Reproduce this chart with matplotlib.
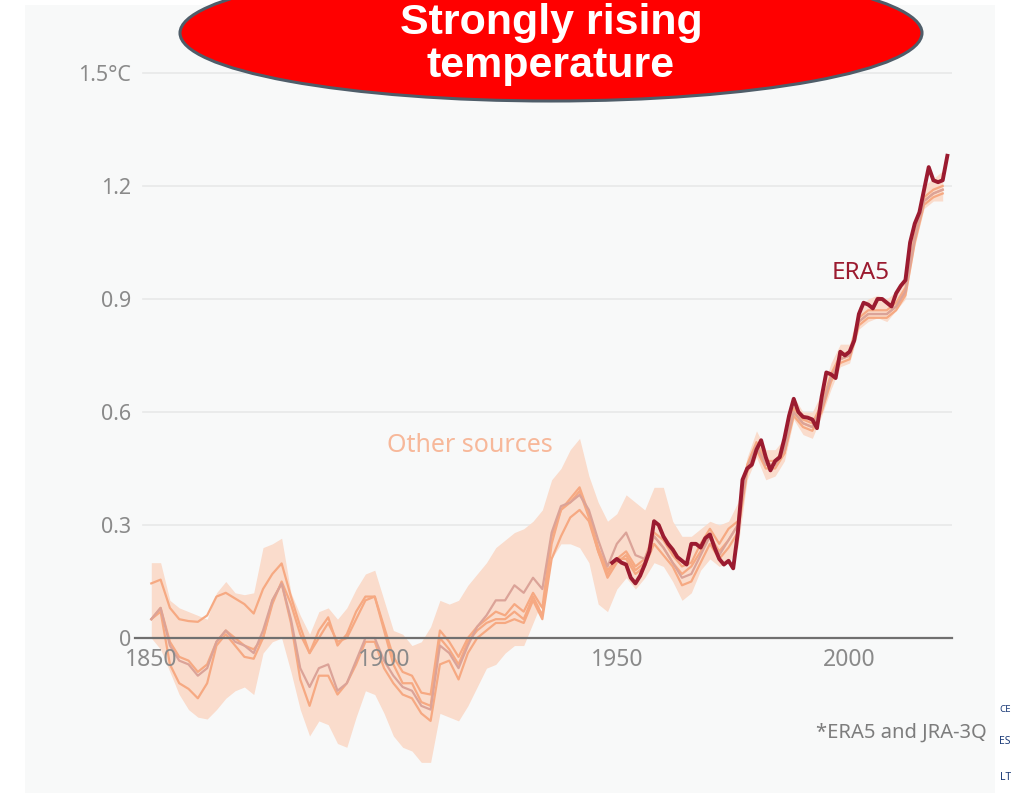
import numpy as np
import matplotlib
matplotlib.use('Agg')
import matplotlib.pyplot as plt
from matplotlib.patches import Ellipse, Rectangle

plt.rcParams['font.family'] = ['Noto Sans', 'DejaVu Sans']

# other sources, read every 2 years (1850..2020)
YEARS = np.arange(1850, 2021, 2)

BAND_HI = [
    0.20, 0.20, 0.10, 0.08, 0.07, 0.06, 0.05, 0.12, 0.15, 0.12,
    0.115, 0.12, 0.24, 0.25, 0.265, 0.12, 0.06, 0.01, 0.07, 0.08,
    0.05, 0.08, 0.13, 0.17, 0.18, 0.10, 0.02, 0.01, -0.02, -0.01,
    0.03, 0.10, 0.09, 0.10, 0.14, 0.17, 0.20, 0.24, 0.26, 0.28,
    0.29, 0.31, 0.34, 0.42, 0.45, 0.50, 0.53, 0.43, 0.36, 0.31,
    0.33, 0.38, 0.36, 0.34, 0.40, 0.40, 0.31, 0.27, 0.27, 0.29,
    0.31, 0.30, 0.31, 0.36, 0.48, 0.55, 0.50, 0.50, 0.53, 0.64,
    0.60, 0.60, 0.65, 0.73, 0.78, 0.78, 0.88, 0.90, 0.91, 0.90,
    0.92, 0.95, 1.10, 1.20, 1.22, 1.24,
]
BAND_LO = [
    0.00, -0.03, -0.09, -0.15, -0.19, -0.21, -0.215, -0.19, -0.16, -0.14,
    -0.13, -0.15, -0.04, -0.01, 0.00, -0.09, -0.19, -0.26, -0.22, -0.23,
    -0.28, -0.29, -0.21, -0.14, -0.15, -0.20, -0.26, -0.29, -0.30, -0.33,
    -0.33, -0.20, -0.21, -0.22, -0.18, -0.13, -0.08, -0.07, -0.04, -0.02,
    -0.02, 0.04, 0.10, 0.21, 0.25, 0.25, 0.24, 0.20, 0.09, 0.07,
    0.13, 0.16, 0.13, 0.16, 0.20, 0.19, 0.15, 0.10, 0.12, 0.18,
    0.21, 0.19, 0.20, 0.24, 0.42, 0.48, 0.42, 0.43, 0.47, 0.58,
    0.54, 0.53, 0.59, 0.66, 0.72, 0.73, 0.82, 0.84, 0.85, 0.84,
    0.87, 0.90, 1.04, 1.14, 1.16, 1.16,
]
SRC_A = [
    0.145, 0.155, 0.08, 0.05, 0.045, 0.043, 0.06, 0.11, 0.12, 0.105,
    0.09, 0.065, 0.13, 0.17, 0.198, 0.11, 0.03, -0.04, 0.02, 0.055,
    -0.02, 0.01, 0.07, 0.11, 0.11, 0.03, -0.05, -0.09, -0.10, -0.145,
    -0.15, 0.02, -0.01, -0.05, 0.00, 0.03, 0.05, 0.07, 0.06, 0.09,
    0.07, 0.12, 0.08, 0.27, 0.34, 0.37, 0.40, 0.33, 0.24, 0.18,
    0.21, 0.23, 0.19, 0.21, 0.28, 0.26, 0.22, 0.19, 0.20, 0.25,
    0.29, 0.25, 0.29, 0.31, 0.46, 0.52, 0.47, 0.47, 0.50, 0.61,
    0.58, 0.57, 0.62, 0.70, 0.75, 0.76, 0.85, 0.87, 0.87, 0.87,
    0.89, 0.93, 1.07, 1.17, 1.19, 1.20,
]
SRC_B = [
    0.05, 0.08, -0.01, -0.05, -0.06, -0.09, -0.07, -0.01, 0.02, 0.00,
    -0.02, -0.03, 0.00, 0.09, 0.15, 0.09, 0.01, -0.04, 0.00, 0.04,
    -0.01, 0.00, 0.05, 0.10, 0.11, 0.02, -0.07, -0.12, -0.12, -0.17,
    -0.18, 0.00, -0.03, -0.07, -0.01, 0.02, 0.04, 0.05, 0.05, 0.07,
    0.05, 0.11, 0.06, 0.25, 0.34, 0.36, 0.39, 0.32, 0.23, 0.16,
    0.20, 0.22, 0.18, 0.20, 0.27, 0.24, 0.20, 0.17, 0.19, 0.23,
    0.27, 0.23, 0.26, 0.30, 0.45, 0.51, 0.46, 0.46, 0.49, 0.60,
    0.57, 0.56, 0.61, 0.69, 0.74, 0.75, 0.84, 0.86, 0.86, 0.86,
    0.88, 0.92, 1.06, 1.16, 1.18, 1.19,
]
SRC_C = [
    0.05, 0.08, -0.02, -0.06, -0.07, -0.10, -0.08, -0.01, 0.02, -0.01,
    -0.02, -0.04, 0.02, 0.10, 0.145, 0.05, -0.08, -0.13, -0.08, -0.07,
    -0.14, -0.12, -0.06, 0.00, 0.00, -0.06, -0.10, -0.13, -0.14, -0.18,
    -0.19, -0.02, -0.04, -0.08, -0.02, 0.03, 0.06, 0.10, 0.10, 0.14,
    0.12, 0.16, 0.13, 0.28, 0.35, 0.36, 0.38, 0.34, 0.26, 0.19,
    0.25, 0.28, 0.22, 0.21, 0.27, 0.24, 0.20, 0.16, 0.17, 0.22,
    0.27, 0.22, 0.26, 0.30, 0.45, 0.51, 0.46, 0.46, 0.50, 0.60,
    0.57, 0.56, 0.61, 0.69, 0.74, 0.75, 0.84, 0.86, 0.86, 0.86,
    0.88, 0.92, 1.06, 1.16, 1.18, 1.19,
]
SRC_D = [
    0.05, 0.07, -0.07, -0.12, -0.135, -0.16, -0.12, -0.02, 0.01, -0.02,
    -0.05, -0.055, 0.00, 0.10, 0.145, 0.04, -0.11, -0.18, -0.10, -0.10,
    -0.15, -0.12, -0.07, -0.01, -0.01, -0.08, -0.12, -0.15, -0.16, -0.20,
    -0.22, -0.07, -0.06, -0.11, -0.04, 0.00, 0.02, 0.04, 0.04, 0.05,
    0.04, 0.10, 0.05, 0.21, 0.27, 0.32, 0.34, 0.31, 0.23, 0.17,
    0.21, 0.21, 0.17, 0.19, 0.25, 0.22, 0.19, 0.14, 0.15, 0.20,
    0.25, 0.21, 0.24, 0.28, 0.44, 0.50, 0.45, 0.45, 0.49, 0.59,
    0.56, 0.55, 0.60, 0.68, 0.73, 0.74, 0.83, 0.85, 0.85, 0.85,
    0.87, 0.91, 1.05, 1.15, 1.17, 1.18,
]

ERA5_YEARS = np.arange(1949, 2022)
ERA5 = [
    0.20, 0.21, 0.20, 0.195, 0.16, 0.145, 0.165, 0.195, 0.23, 0.31,
    0.30, 0.27, 0.25, 0.235, 0.215, 0.205, 0.195, 0.25, 0.25, 0.24,
    0.265, 0.275, 0.24, 0.21, 0.195, 0.205, 0.185, 0.28, 0.42, 0.45,
    0.46, 0.50, 0.525, 0.48, 0.445, 0.47, 0.48, 0.53, 0.59, 0.635,
    0.60, 0.587, 0.585, 0.58, 0.557, 0.64, 0.705, 0.70, 0.69, 0.76,
    0.75, 0.76, 0.79, 0.86, 0.89, 0.885, 0.875, 0.90, 0.90, 0.89,
    0.88, 0.915, 0.935, 0.95, 1.05, 1.10, 1.13, 1.19, 1.25, 1.215,
    1.21, 1.215, 1.28,
]

Y_TICKS  = [0, 0.3, 0.6, 0.9, 1.2, 1.5]
Y_LABELS = ['0', '0.3', '0.6', '0.9', '1.2', '1.5°C']
X_TICKS  = [1850, 1900, 1950, 2000]

BAND_COLOR = '#fadccc'
LINE_COLOR = '#f6a982'
PINK_COLOR = '#dba398'
ERA5_COLOR = '#9b1b30'
GRID_COLOR = '#e8e9e9'
TICK_COLOR = '#8a8a8a'
BG_COLOR   = '#f8f9f9'
LOGO_COLOR = '#1d3c78'


def main():
    fig = plt.figure(figsize=(10.12, 7.93), dpi=100)
    fig.patch.set_facecolor('white')

    # light grey panel behind the chart
    fig.add_artist(Rectangle((25 / 1012, 0), 970 / 1012, 788 / 793,
                             transform=fig.transFigure, facecolor=BG_COLOR,
                             edgecolor='none', zorder=-10))

    ax = fig.add_axes([135 / 1012, 0.0054, 817 / 1012, 0.9264])
    ax.set_facecolor('none')
    ax.set_xlim(1846.5, 2022)
    ax.set_ylim(-0.4, 1.55)

    for y in Y_TICKS[1:]:
        ax.axhline(y, xmin=0.01, color=GRID_COLOR, lw=1.2, zorder=0)

    ax.fill_between(YEARS, BAND_LO, BAND_HI, color=BAND_COLOR, lw=0, zorder=1)
    for vals in (SRC_A, SRC_B, SRC_D):
        ax.plot(YEARS, vals, color=LINE_COLOR, lw=1.6, zorder=2)
    ax.plot(YEARS, SRC_C, color=PINK_COLOR, lw=1.6, zorder=2)
    ax.plot(ERA5_YEARS, ERA5, color=ERA5_COLOR, lw=2.8, zorder=4,
            solid_joinstyle='round')

    ax.text(1900.6, 0.51, 'Other sources', color='#f7b89a', fontsize=18,
            va='center', ha='left')
    ax.text(1996.2, 0.97, 'ERA5', color=ERA5_COLOR, fontsize=17.5,
            fontweight='bold', va='center', ha='left')

    for s in ('top', 'right', 'left'):
        ax.spines[s].set_visible(False)
    ax.spines['bottom'].set_position(('data', 0))
    ax.spines['bottom'].set_color('#707070')
    ax.spines['bottom'].set_linewidth(1.6)
    ax.spines['bottom'].set_zorder(3)

    ax.set_yticks(Y_TICKS, Y_LABELS)
    ax.set_xticks(X_TICKS, [str(x) for x in X_TICKS])
    ax.tick_params(axis='y', length=0, pad=3, labelsize=15.5, labelcolor=TICK_COLOR)
    ax.tick_params(axis='x', length=0, pad=7, labelsize=16.5, labelcolor=TICK_COLOR)
    ax.set_axisbelow(False)

    fig.text(987 / 1012, 1 - 733 / 793, '*ERA5 and JRA-3Q', color='#7d7d7d',
             fontsize=14.5, ha='right', va='center')

    # bits of the logo at the right edge, kept inside the picture
    fig.text(1011 / 1012, 1 - 710 / 793, 'CE', color=LOGO_COLOR, fontsize=7,
             fontweight='bold', va='center', ha='right')
    fig.text(1011 / 1012, 1 - 742 / 793, 'ES', color=LOGO_COLOR, fontsize=7.5,
             fontweight='bold', va='center', ha='right')
    fig.text(1011 / 1012, 1 - 778 / 793, 'LT', color=LOGO_COLOR, fontsize=7.5,
             fontweight='bold', va='center', ha='right')

    # red title bubble (top of it runs off the picture, as in the original)
    fig.add_artist(Ellipse((551 / 1012, 1 - 33 / 793), 742 / 1012, 136 / 793,
                           transform=fig.transFigure, facecolor='#ff0000',
                           edgecolor='#4f5d69', lw=2.2, zorder=20))
    fig.text(551 / 1012, 1 - 23 / 793, 'Strongly rising', color='white',
             fontsize=31, fontweight='bold', family='Liberation Sans',
             ha='center', va='center', zorder=21)
    fig.text(551 / 1012, 1 - 66 / 793, 'temperature', color='white',
             fontsize=31, fontweight='bold', family='Liberation Sans',
             ha='center', va='center', zorder=21)

    fig.savefig('out.png', dpi=100)


if __name__ == "__main__":
    main()
